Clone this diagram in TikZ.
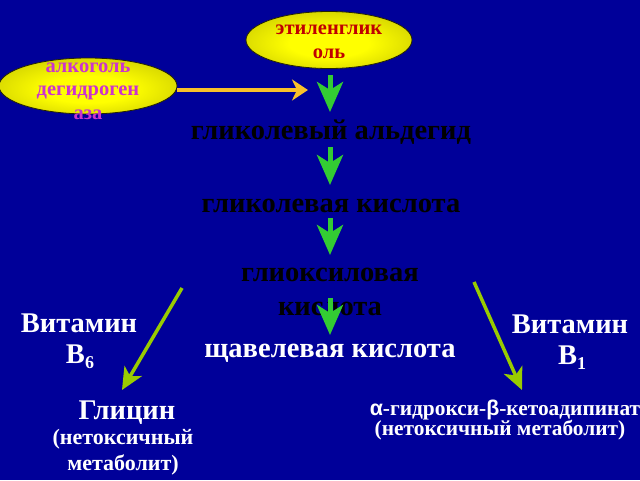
\documentclass[tikz,border=0pt]{standalone}
\usepackage{fontspec}
\setmainfont{Liberation Serif}
\newfontfamily\grk{Liberation Sans}
\usetikzlibrary{shapes.geometric,arrows.meta}
\definecolor{bg}{HTML}{000099}
\definecolor{grn}{HTML}{33CC33}
\definecolor{ygrn}{HTML}{99CC00}
\definecolor{org}{HTML}{F8C02A}
\definecolor{dred}{HTML}{C00000}
\definecolor{mag}{HTML}{CC33CC}
\definecolor{oliv}{HTML}{7A7A00}
\pgfdeclareradialshading{ellshade}{\pgfpoint{0bp}{-4bp}}{color(0bp)=(yellow); color(12bp)=(yellow); color(30bp)=(oliv!35!yellow); color(44bp)=(oliv!75!yellow); color(50bp)=(oliv)}
\tikzset{
  ellbox/.style={ellipse, shading=ellshade, draw=black!70!oliv, line width=0.8pt, inner sep=0pt},
  big/.style={font=\bfseries\fontsize{28.5}{34}\selectfont, align=center, inner sep=0pt},
  mid/.style={font=\bfseries\fontsize{22}{26}\selectfont, align=center, inner sep=0pt},
  rmid/.style={font=\bfseries\fontsize{21.4}{20}\selectfont, align=center, inner sep=0pt},
  small/.style={font=\bfseries\fontsize{20.5}{23.5}\selectfont, align=center, inner sep=0pt},
  garrow/.style={draw=grn, line width=5pt, -{Stealth[length=30pt,width=26pt,inset=8pt]}},
  diag/.style={draw=ygrn, line width=3.5pt, -{Stealth[length=22pt,width=20pt,inset=6pt]}},
  oarrow/.style={draw=org, line width=4.5pt, -{Stealth[length=16pt,width=21pt,inset=5pt]}}
}
\begin{document}
\begin{tikzpicture}[x=1pt,y=-1pt]
\fill[bg] (0,0) rectangle (640,480);
\useasboundingbox (0,0) rectangle (640,480);

% ellipses
\node[ellbox, minimum width=166pt, minimum height=57pt] (eg) at (329,40) {};
\node[small, text=dred] (egt) at (329,42) {этиленглик\\оль};
\node[ellbox, minimum width=178pt, minimum height=56pt] (adh) at (88,86) {};
\node[small, text=mag] (adht) at (88,91) {алкоголь\\дегидроген\\аза};

% main chain texts
\node[big, text=black] (ga) at (331,132) {гликолевый альдегид};
\node[big, text=black] (gk) at (331,206) {гликолевая кислота};
\node[big, text=black] (gl) at (330,292) {глиоксиловая\\кислота};
\node[big, text=white] (sk) at (330,353) {щавелевая кислота};

% vitamins
\node[big, text=white] (v6) at (79,323) {Витамин};
\node[big, text=white] (b6) at (80,357) {В\raisebox{-5pt}{\fontsize{18}{18}\selectfont 6}};
\node[big, text=white] (v1) at (570,324) {Витамин};
\node[big, text=white] (b1) at (572,358) {В\raisebox{-5pt}{\fontsize{18}{18}\selectfont 1}};

% products
\node[big, text=white] (gly) at (127,413) {Глицин};
\node[mid, text=white] (glyn) at (123,452) {(нетоксичный\\метаболит)};
\node[rmid, text=white] (kad) at (505,410) {{\grk α}-гидрокси-{\grk β}-кетоадипинат};
\node[rmid, text=white] (kadn) at (500,430) {(нетоксичный метаболит)};

% coordinates for arrows
\coordinate (a1s) at (330,75);  \coordinate (a1e) at (330,112);
\coordinate (a2s) at (330,147); \coordinate (a2e) at (330,185);
\coordinate (a3s) at (330,218); \coordinate (a3e) at (330,255);
\coordinate (a4s) at (330,298); \coordinate (a4e) at (330,335);
\coordinate (oe) at (308,90);
\coordinate (ls) at (182,288); \coordinate (le) at (122,390);
\coordinate (rs) at (474,282); \coordinate (re) at (522,390);

\draw[oarrow] (adh.east |- oe) -- (oe);
\draw[garrow] (a1s) -- (a1e);
\draw[garrow] (a2s) -- (a2e);
\draw[garrow] (a3s) -- (a3e);
\draw[garrow] (a4s) -- (a4e);
\draw[diag] (ls) -- (le);
\draw[diag] (rs) -- (re);
\end{tikzpicture}
\end{document}
